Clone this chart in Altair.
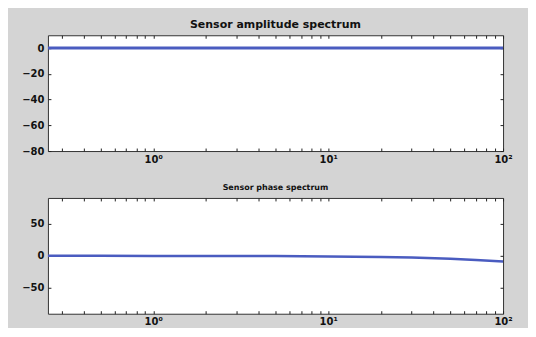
import altair as alt
import pandas as pd

# Frequencies (Hz) sampled along the curves
freq = [0.25, 0.5, 1, 2, 5, 10, 20, 30, 50, 70, 100]
# Amplitude (dB) - flat at 0
amp_db = [0, 0, 0, 0, 0, 0, 0, 0, 0, 0, 0]
# Phase (deg) - slight lag at high frequency
phase_deg = [-0.02, -0.04, -0.09, -0.18, -0.45, -0.9, -1.8, -2.7, -4.5, -6.3, -8.8]

x_ticks = [0.3, 0.4, 0.5, 0.6, 0.7, 0.8, 0.9,
           1, 2, 3, 4, 5, 6, 7, 8, 9,
           10, 20, 30, 40, 50, 60, 70, 80, 90, 100]
amp_ticks = [0, -20, -40, -60, -80]
phase_ticks = [50, 0, -50]

amp_title = "Sensor amplitude spectrum"
phase_title = "Sensor phase spectrum"

amp_df = pd.DataFrame({"f": freq, "v": amp_db})
phase_df = pd.DataFrame({"f": freq, "v": phase_deg})

LINE = "#4a5cc0"
FONT = "DejaVu Sans"
x_domain = [0.25, 100]

label_expr = "datum.value == 1 ? '10⁰' : datum.value == 10 ? '10¹' : datum.value == 100 ? '10²' : ''"


def panel(df, ydomain, yticks, title, title_size, height, lw):
    xs = alt.Scale(type="log", domain=x_domain, nice=False)
    ys = alt.Scale(domain=ydomain, nice=False, zero=False)
    common_axis = dict(domain=False, grid=False, tickSize=3, offset=-3,
                       tickColor="#222", tickWidth=1, labelFont=FONT,
                       labelFontWeight="bold", labelFontSize=10, labelColor="#111")
    main = alt.Chart(df).mark_line(color=LINE, strokeWidth=lw, clip=True).encode(
        x=alt.X("f:Q", scale=xs, title=None,
                axis=alt.Axis(values=x_ticks, labelExpr=label_expr, orient="bottom",
                              labelOverlap=False, labelFlush=False, labelPadding=3,
                              **common_axis)),
        y=alt.Y("v:Q", scale=ys, title=None,
                axis=alt.Axis(values=yticks, orient="left", labelPadding=4,
                              labelOverlap=False, labelFlush=False, **common_axis)),
    )
    mirror = alt.Chart(df).mark_line(strokeOpacity=0).encode(
        x=alt.X("f:Q", scale=xs, title=None,
                axis=alt.Axis(values=x_ticks, labels=False, orient="top", **common_axis)),
        y=alt.Y("v:Q", scale=ys, title=None,
                axis=alt.Axis(values=yticks, labels=False, orient="right", **common_axis)),
    )
    return alt.layer(main, mirror).resolve_scale(x="independent", y="independent").properties(
        width=456, height=height,
        title=alt.TitleParams(title, font=FONT, fontSize=title_size, fontWeight="bold",
                              color="#111", offset=5, anchor="middle"),
    )


top = panel(amp_df, [-80, 10], amp_ticks, amp_title, 11, 116, 3)
bottom = panel(phase_df, [-90, 90], phase_ticks, phase_title, 8, 116, 2.5)

chart = alt.vconcat(top, bottom, spacing=19).properties(
    background="#d4d4d4",
    padding={"left": 13, "top": 10, "right": 15, "bottom": 0},
).configure_view(stroke="#333", strokeWidth=1, fill="white")

chart.save("out.html", embed_options={"renderer": "svg", "actions": False})
